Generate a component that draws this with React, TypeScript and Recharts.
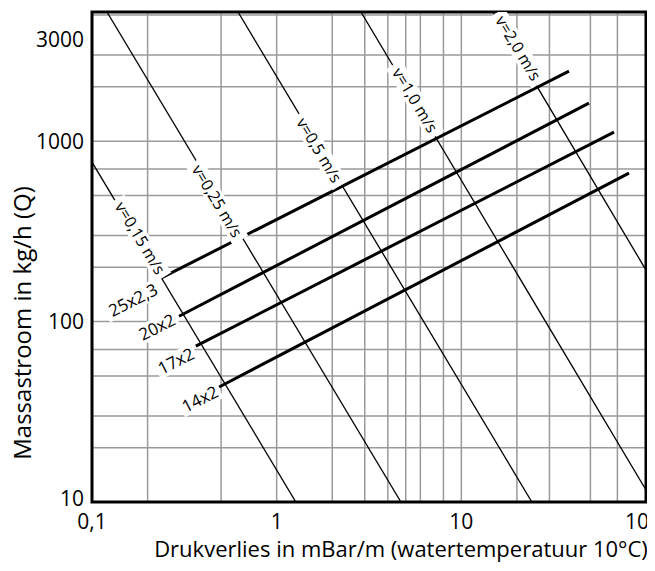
import { ComposedChart, Line, Scatter, XAxis, YAxis, CartesianGrid, ReferenceArea } from 'recharts';

const FONT = '"Open Sans", "Noto Sans", sans-serif';

const X_TICKS = [0.1, 1, 10, 100];
const X_TICK_LABELS = ['0,1', '1', '10', '100'];
const Y_TICKS = [10, 100, 1000, 3000];
const Y_TICK_LABELS = ['10', '100', '1000', '3000'];

const X_DOMAIN = [0.1, 100];
const Y_DOMAIN = [10, 5200];

// grid: every 1..9 step of each decade
const MANTISSAS = [1, 2, 3, 4, 5, 6, 7, 8, 9];
const X_GRID = [0.1, 1, 10].flatMap((d) => MANTISSAS.map((m) => m * d)).concat([100]);
const Y_GRID = [10, 100, 1000].flatMap((d) => MANTISSAS.map((m) => m * d)).filter((v) => v <= 5200);

// velocity lines: dp = mBar/m, q = kg/h
const V_015 = [{ dp: 0.1, q: 765 }, { dp: 1.27, q: 10 }];
const V_025 = [{ dp: 0.1205, q: 5200 }, { dp: 4.71, q: 10 }];
const V_05 = [{ dp: 0.6175, q: 5200 }, { dp: 24.1, q: 10 }];
const V_10 = [{ dp: 2.86, q: 5200 }, { dp: 100, q: 11.65 }];
const V_20 = [{ dp: 14.8, q: 5200 }, { dp: 100, q: 193 }];

// pipe lines
const D_25 = [{ dp: 0.236, q: 174 }, { dp: 38.3, q: 2443 }];
const D_20 = [{ dp: 0.296, q: 107 }, { dp: 49.1, q: 1625 }];
const D_17 = [{ dp: 0.365, q: 73.1 }, { dp: 67.1, q: 1122 }];
const D_14 = [{ dp: 0.488, q: 43.4 }, { dp: 80.9, q: 665 }];

const LABEL_TEXTS = ['v=0,15 m/s', 'v=0,25 m/s', 'v=0,5 m/s', 'v=1,0 m/s', 'v=2,0 m/s', '25x2,3', '20x2', '17x2', '14x2'];
const LABEL_DP = [0.182, 0.475, 1.695, 5.61, 20.3, 0.167, 0.225, 0.285, 0.385];
const LABEL_Q = [290, 465, 891, 1687, 3273, 131.5, 93.2, 60.4, 37.2];

const labelData = LABEL_TEXTS.map((text, i) => ({ dp: LABEL_DP[i], q: LABEL_Q[i], text }));

const velocityLines = [V_015, V_025, V_05, V_10, V_20];
const pipeLines = [D_25, D_20, D_17, D_14];

const XTick = (props: any) => {
  const { x, y, payload } = props;
  const i = X_TICKS.indexOf(payload.value);
  return (
    <text x={x} y={y + 20} dy="0.35em" textAnchor="middle" fontSize={21} fill="#000" fontFamily={FONT}>
      {X_TICK_LABELS[i]}
    </text>
  );
};

const YTick = (props: any) => {
  const { x, y, payload } = props;
  const i = Y_TICKS.indexOf(payload.value);
  // the 3000 label sits a bit above its gridline in the original
  const shift = payload.value === 3000 ? -15 : payload.value === 10 ? -3 : 0;
  return (
    <text x={x - 8} y={y + shift} dy="0.35em" textAnchor="end" fontSize={21} fill="#000" fontFamily={FONT}>
      {Y_TICK_LABELS[i]}
    </text>
  );
};

const LineTag = (props: any) => {
  const { cx, cy, payload } = props;
  const isVelocity = payload.text.startsWith('v=');
  const fs = isVelocity ? 16 : 17;
  const angle = isVelocity ? 59 : -27;
  const w = payload.text.length * fs * 0.52 + 8;
  const h = fs + 2;
  return (
    <g transform={`translate(${cx},${cy}) rotate(${angle})`}>
      <rect x={-w / 2} y={-h / 2} width={w} height={h} fill="#fff" />
      <text x={0} y={0} dy="0.35em" textAnchor="middle" fontSize={fs} fill="#000" fontFamily={FONT}>
        {payload.text}
      </text>
    </g>
  );
};

export default function App() {
  return (
    <ComposedChart width={647} height={555} margin={{ top: 4, right: 9, left: 0, bottom: 0 }}>
      <CartesianGrid
        horizontalValues={Y_GRID}
        verticalValues={X_GRID}
        stroke="#9a9a9a"
        strokeWidth={1.5}
      />
      <XAxis
        dataKey="dp"
        type="number"
        scale="log"
        domain={X_DOMAIN}
        allowDataOverflow
        ticks={X_TICKS}
        tick={<XTick />}
        tickLine={false}
        axisLine={false}
        tickSize={0}
        tickMargin={0}
        height={61}
        label={() => (
          <text x={393} y={541} dy="0.35em" textAnchor="middle" fontSize={22} fill="#000" fontFamily={FONT}>
            Drukverlies in mBar/m (watertemperatuur 10°C)
          </text>
        )}
      />
      <YAxis
        dataKey="q"
        type="number"
        scale="log"
        domain={Y_DOMAIN}
        allowDataOverflow
        ticks={Y_TICKS}
        tick={<YTick />}
        tickLine={false}
        axisLine={false}
        tickSize={0}
        tickMargin={0}
        width={84}
        label={() => (
          <text
            x={15}
            y={315}
            dy="0.35em"
            textAnchor="middle"
            fontSize={24}
            fill="#000"
            fontFamily={FONT}
            transform="rotate(-90, 15, 315)"
          >
            Massastroom in kg/h (Q)
          </text>
        )}
      />
      <ReferenceArea
        x1={X_DOMAIN[0]}
        x2={X_DOMAIN[1]}
        y1={Y_DOMAIN[0]}
        y2={Y_DOMAIN[1]}
        fill="none"
        fillOpacity={0}
        stroke="#000"
        strokeWidth={3}
        ifOverflow="visible"
      />
      {velocityLines.map((d, i) => (
        <Line
          key={`v${i}`}
          data={d}
          dataKey="q"
          stroke="#000"
          strokeWidth={1.3}
          dot={false}
          activeDot={false}
          isAnimationActive={false}
        />
      ))}
      {pipeLines.map((d, i) => (
        <Line
          key={`d${i}`}
          data={d}
          dataKey="q"
          stroke="#000"
          strokeWidth={3}
          dot={false}
          activeDot={false}
          isAnimationActive={false}
        />
      ))}
      <Scatter data={labelData} dataKey="q" shape={<LineTag />} isAnimationActive={false} />
    </ComposedChart>
  );
}
